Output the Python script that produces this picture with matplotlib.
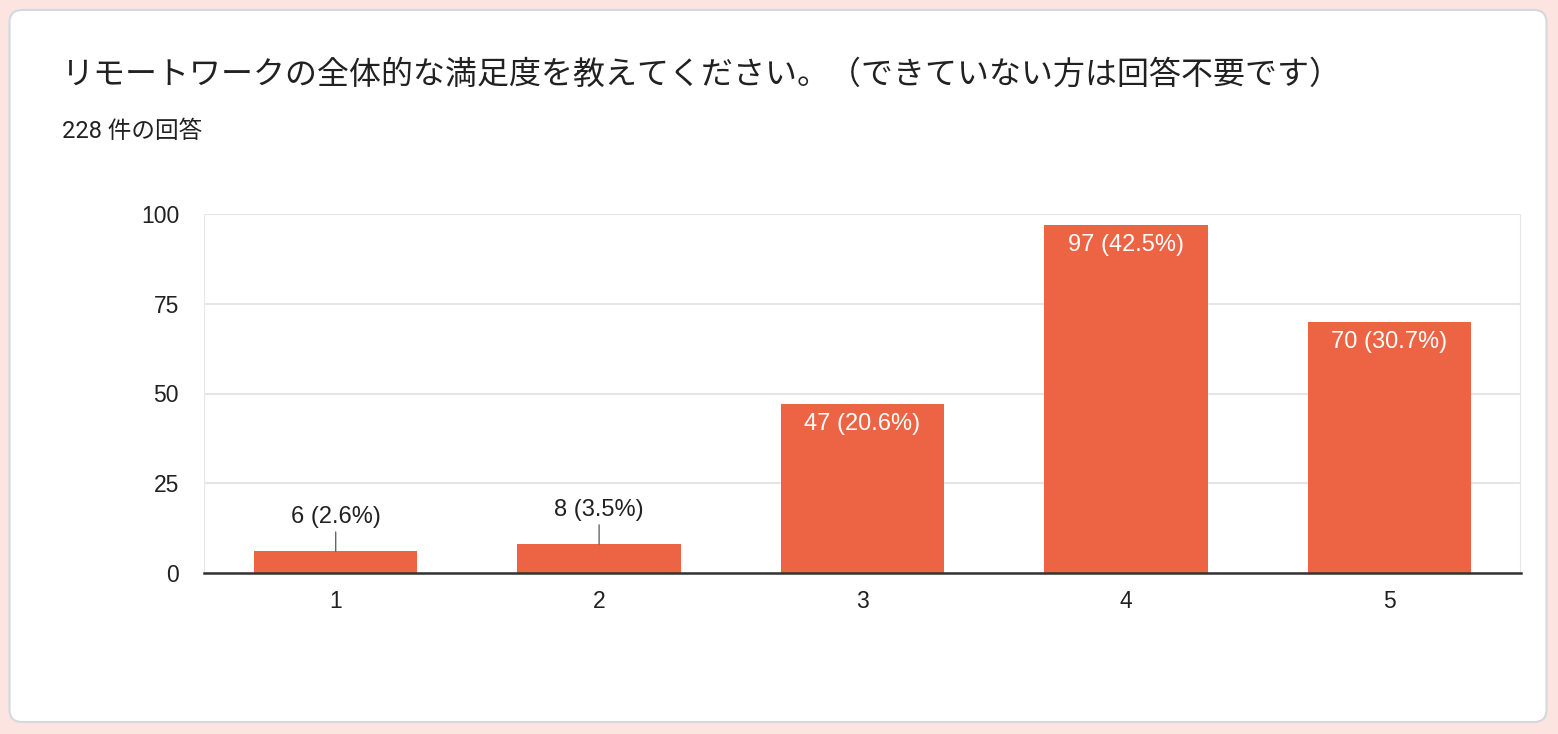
import matplotlib.pyplot as plt
import matplotlib.patches as mpatches

# data
categories = ['1', '2', '3', '4', '5']
counts = [6, 8, 47, 97, 70]
percents = [2.6, 3.5, 20.6, 42.5, 30.7]
yticks = [0, 25, 50, 75, 100]
title = 'リモートワークの全体的な満足度を教えてください。（できていない方は回答不要です）'
subtitle = '228 件の回答'

bar_color = '#ec6443'
text_color = '#212121'
jp_fonts = ['Roboto', 'Noto Sans CJK JP', 'DejaVu Sans']
num_fonts = ['Liberation Sans', 'DejaVu Sans']

W, H = 1558, 734
fig = plt.figure(figsize=(W / 100, H / 100), dpi=100)
fig.patch.set_facecolor('#fce5e0')

# white card with rounded corners
card = mpatches.FancyBboxPatch((9.5 / W, 12 / H), 1537 / W, 712 / H,
                               boxstyle='round,pad=0,rounding_size=0.008',
                               transform=fig.transFigure, facecolor='white',
                               edgecolor='#d5d8dc', linewidth=1.5,
                               mutation_aspect=W / H, zorder=-10)
fig.patches.append(card)

fig.text(62 / W, 1 - 75 / H, title, fontsize=23, color=text_color,
         family=jp_fonts, va='center', ha='left')
fig.text(62 / W, 1 - 132 / H, subtitle, fontsize=17, color=text_color,
         family=jp_fonts, va='center', ha='left')

ax = fig.add_axes([204 / W, 1 - 573 / H, (1521 - 204) / W, (573 - 214) / H])
ax.set_facecolor('white')
x = list(range(1, len(categories) + 1))
ax.bar(x, counts, width=0.62, color=bar_color, zorder=3)

ax.set_xlim(0.5, 5.5)
ax.set_ylim(0, 100)
ax.set_yticks(yticks)
ax.set_xticks(x)
ax.set_xticklabels(categories)
ax.grid(axis='y', color='#e6e6e6', linewidth=1.5, zorder=0)
for s in ['top', 'left', 'right']:
    ax.spines[s].set_visible(False)
ax.spines['bottom'].set_color('#333333')
ax.spines['bottom'].set_linewidth(1.8)
ax.spines['bottom'].set_zorder(4)
ax.axvline(0.5, color='#e6e6e6', linewidth=1.5, zorder=0)
ax.axvline(5.5, color='#e6e6e6', linewidth=1.5, zorder=0)
ax.tick_params(length=0, labelsize=16.5, colors=text_color, pad=12)
ax.tick_params(axis='y', pad=18)
for lab in ax.get_xticklabels() + ax.get_yticklabels():
    lab.set_family(num_fonts)

for xi, c, p in zip(x, counts, percents):
    label = '%d (%.1f%%)' % (c, p)
    if c < 20:
        ax.annotate(label, xy=(xi, c), xytext=(0, 17), textcoords='offset points',
                    ha='center', va='bottom', fontsize=17, color=text_color,
                    family=num_fonts, zorder=5,
                    arrowprops=dict(arrowstyle='-', color='#666666', lw=1,
                                    shrinkA=1, shrinkB=0))
    else:
        ax.annotate(label, xy=(xi, c), xytext=(0, -6.5), textcoords='offset points',
                    ha='center', va='top', fontsize=17, color='white',
                    family=num_fonts, zorder=5)

fig.savefig('out.png', dpi=100, facecolor=fig.get_facecolor())
